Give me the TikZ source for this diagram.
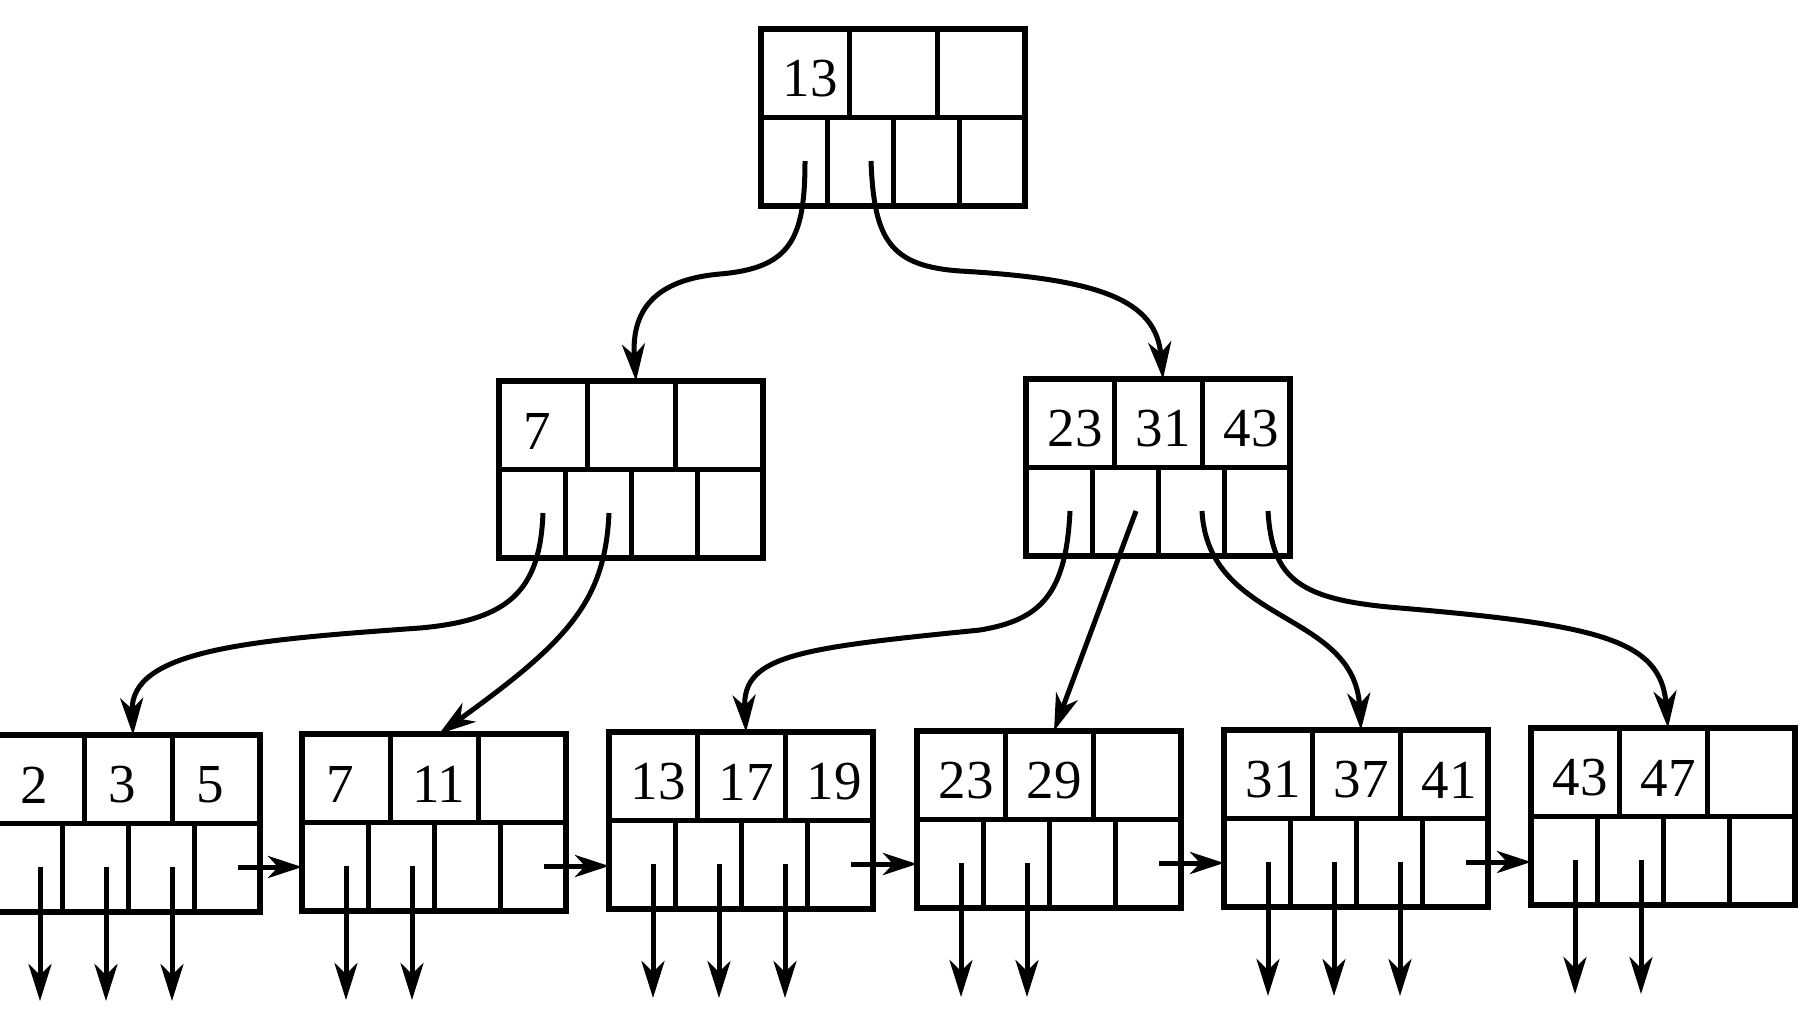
\documentclass[tikz,border=0pt]{standalone}
\usepackage{fontspec}
\setmainfont{Liberation Serif}
\usetikzlibrary{arrows.meta,calc}

% key text: a single digit sits a little left of the cell centre
\newcommand\keyfield[1]{\setbox0=\hbox{#1}%
  \ifdim\wd0<0.6em\makebox[1.8\wd0][l]{#1}\else#1\fi}

% One B+-tree node: three key cells over four pointer cells.
% #1 name, #2 x of left edge, #3 y of top edge, #4-#6 keys
\newcommand\bpnode[6]{%
  \node[bpbox] (#1) at (#2,#3) {};
  \draw[cell] (#2,#3+88) -- (#2+264,#3+88);
  \draw[cell] (#2+88,#3) -- (#2+88,#3+88);
  \draw[cell] (#2+176,#3) -- (#2+176,#3+88);
  \draw[cell] (#2+66,#3+88) -- (#2+66,#3+177);
  \draw[cell] (#2+132,#3+88) -- (#2+132,#3+177);
  \draw[cell] (#2+198,#3+88) -- (#2+198,#3+177);
  \node[key] (#1-k1) at (#2+49,#3+50) {\keyfield{#4}};
  \node[key] (#1-k2) at (#2+137,#3+50) {\keyfield{#5}};
  \node[key] (#1-k3) at (#2+225,#3+50) {\keyfield{#6}};
  \coordinate (#1-p1) at (#2+44,#3+132);
  \coordinate (#1-p2) at (#2+110,#3+132);
  \coordinate (#1-p3) at (#2+176,#3+132);
  \coordinate (#1-p4) at (#2+242,#3+132);
}

\begin{document}
\begin{tikzpicture}[x=1pt,y=-1pt,
  bpbox/.style={draw, line width=6pt, minimum width=264pt, minimum height=177pt,
    anchor=north west, inner sep=0pt, outer sep=0pt},
  cell/.style={line width=5pt},
  key/.style={font=\fontsize{55}{60}\selectfont, inner sep=0pt},
  ptr/.style={line width=5pt, -{Stealth[length=37pt,width=23pt,inset=11pt]}},
  link/.style={line width=5pt, -{Stealth[length=34pt,width=22pt,inset=10pt]}}
]
\useasboundingbox (0,0) rectangle (1810,1034);

% root and inner nodes
\bpnode{root}{761}{29}{13}{}{}
\bpnode{ml}{499}{381}{7}{}{}
\bpnode{mr}{1026}{379}{23}{31}{43}

% leaves
\bpnode{la}{-4}{735}{2}{3}{5}
\bpnode{lb}{302}{734}{7}{11}{}
\bpnode{lc}{609}{732}{13}{17}{19}
\bpnode{ld}{917}{731}{23}{29}{}
\bpnode{le}{1224}{730}{31}{37}{41}
\bpnode{lf}{1531}{728}{43}{47}{}

% root to inner nodes
\draw[ptr] (root-p1) .. controls (805,240) and (790,268) .. (720,274)
  .. controls (675,278) and (630,295) .. (ml.north -| ml-k2);
\draw[ptr] (root-p2) .. controls (874,240) and (890,266) .. (960,271)
  .. controls (1100,279) and (1156,300) .. (mr.north -| mr-k2);

% inner nodes to leaves
\draw[ptr] (ml-p1) .. controls (540,590) and (510,620) .. (420,628)
  .. controls (250,640) and (130,650) .. (la.north -| la-k2);
\draw[ptr] (ml-p2) .. controls (605,600) and (570,640) .. (lb.north -| lb-k2);
\draw[ptr] (mr-p1) .. controls (1066,595) and (1040,620) .. (980,630)
  .. controls (800,648) and (742,655) .. (lc.north -| lc-k2);
\draw[ptr] (mr-p2) -- (ld.north -| ld-k2);
\draw[ptr] (mr-p3) .. controls (1208,625) and (1354,610) .. (le.north -| le-k2);
\draw[ptr] (mr-p4) .. controls (1272,580) and (1300,600) .. (1400,608)
  .. controls (1600,625) and (1661,640) .. (lf.north -| lf-k2);

% leaf chain
\draw[link] (la-p4) -- (la-p4 -| lb.west);
\draw[link] (lb-p4) -- (lb-p4 -| lc.west);
\draw[link] (lc-p4) -- (lc-p4 -| ld.west);
\draw[link] (ld-p4) -- (ld-p4 -| le.west);
\draw[link] (le-p4) -- (le-p4 -| lf.west);

% record pointers
\foreach \l/\n in {la/3, lb/2, lc/3, ld/2, le/3, lf/2}{
  \foreach \i in {1,...,\n}{
    \draw[ptr] (\l-p\i) -- ++(0,134);
  }
}
\end{tikzpicture}
\end{document}
